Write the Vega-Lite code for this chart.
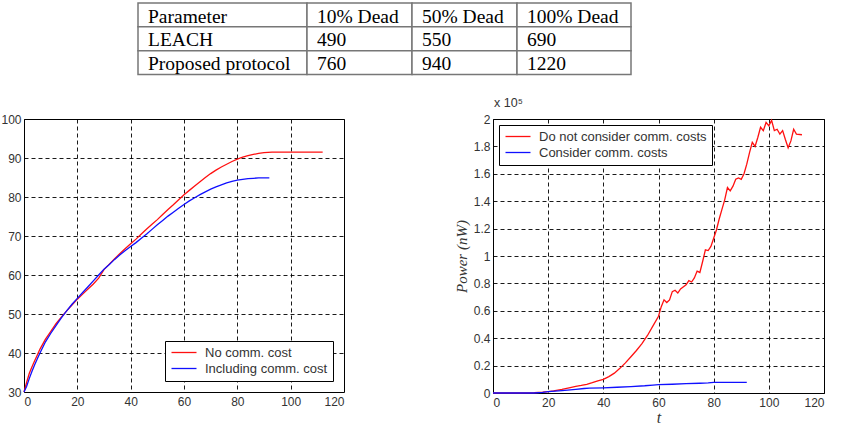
{
  "$schema": "https://vega.github.io/schema/vega-lite/v6.json",
  "padding": 0,
  "background": "white",
  "spacing": 16,
  "config": {
    "font": "Liberation Sans",
    "view": {"stroke": "black", "strokeWidth": 1},
    "axis": {
      "domain": false, "ticks": false, "grid": true,
      "gridColor": "black", "gridDash": [4, 3], "gridOpacity": 1, "gridWidth": 0.9,
      "labelFont": "Liberation Sans", "labelFontSize": 12, "labelColor": "#333",
      "title": null
    },
    "axisX": {"labelPadding": 4},
    "axisY": {"labelPadding": 3},
    "legend": {
      "fillColor": "white", "strokeColor": "black", "strokeWidth": 1,
      "padding": 5, "symbolType": "M-1,0H4", "symbolSize": 100, "symbolStrokeWidth": 1.3,
      "labelFont": "Liberation Sans", "labelFontSize": 13, "labelColor": "#333", "labelLimit": 0,
      "rowPadding": 2, "labelOffset": 22
    }
  },
  "vconcat": [
    {
      "width": 810,
      "height": 80,
      "view": {"stroke": null},
      "data": {
        "values": [
          {"c": 0, "c2": 1, "r": 0, "r2": 1, "t": "Parameter"},
          {"c": 1, "c2": 2, "r": 0, "r2": 1, "t": "10% Dead"},
          {"c": 2, "c2": 3, "r": 0, "r2": 1, "t": "50% Dead"},
          {"c": 3, "c2": 4, "r": 0, "r2": 1, "t": "100% Dead"},
          {"c": 0, "c2": 1, "r": 1, "r2": 2, "t": "LEACH"},
          {"c": 1, "c2": 2, "r": 1, "r2": 2, "t": "490"},
          {"c": 2, "c2": 3, "r": 1, "r2": 2, "t": "550"},
          {"c": 3, "c2": 4, "r": 1, "r2": 2, "t": "690"},
          {"c": 0, "c2": 1, "r": 2, "r2": 3, "t": "Proposed protocol"},
          {"c": 1, "c2": 2, "r": 2, "r2": 3, "t": "760"},
          {"c": 2, "c2": 3, "r": 2, "r2": 3, "t": "940"},
          {"c": 3, "c2": 4, "r": 2, "r2": 3, "t": "1220"}
        ]
      },
      "layer": [
        {
          "mark": {"type": "rect", "fill": "white", "stroke": "#777", "strokeWidth": 1.5},
          "encoding": {
            "x": {"field": "c", "type": "quantitative", "scale": {"domain": [0, 1, 2, 3, 4], "range": [114, 283, 388, 493, 607], "nice": false, "zero": false}, "axis": null},
            "x2": {"field": "c2"},
            "y": {"field": "r", "type": "quantitative", "scale": {"domain": [0, 3], "range": [3, 74.5], "nice": false, "zero": false}, "axis": null},
            "y2": {"field": "r2"}
          }
        },
        {
          "mark": {"type": "text", "align": "left", "baseline": "alphabetic", "dx": 10, "dy": 19.5, "font": "Liberation Serif", "fontSize": 19.5, "color": "black"},
          "encoding": {
            "x": {"field": "c", "type": "quantitative"},
            "y": {"field": "r", "type": "quantitative"},
            "text": {"field": "t"}
          }
        }
      ]
    },
    {
      "spacing": 108,
      "resolve": {"scale": {"color": "independent"}, "legend": {"color": "independent"}},
      "hconcat": [
        {
          "width": 320,
          "height": 273,
          "data": {
            "values": [
              {"x": 0, "y": 30, "s": "No comm. cost"},
              {"x": 1, "y": 32.5, "s": "No comm. cost"},
              {"x": 2, "y": 34.8, "s": "No comm. cost"},
              {"x": 3, "y": 36.5, "s": "No comm. cost"},
              {"x": 4, "y": 38, "s": "No comm. cost"},
              {"x": 5, "y": 39.5, "s": "No comm. cost"},
              {"x": 6, "y": 41, "s": "No comm. cost"},
              {"x": 8, "y": 43.5, "s": "No comm. cost"},
              {"x": 10, "y": 45.5, "s": "No comm. cost"},
              {"x": 12, "y": 47.5, "s": "No comm. cost"},
              {"x": 14, "y": 49.2, "s": "No comm. cost"},
              {"x": 16, "y": 50.8, "s": "No comm. cost"},
              {"x": 18, "y": 52.3, "s": "No comm. cost"},
              {"x": 20, "y": 53.8, "s": "No comm. cost"},
              {"x": 22, "y": 55.1, "s": "No comm. cost"},
              {"x": 24, "y": 56.4, "s": "No comm. cost"},
              {"x": 26, "y": 57.7, "s": "No comm. cost"},
              {"x": 28, "y": 59.2, "s": "No comm. cost"},
              {"x": 30, "y": 61.4, "s": "No comm. cost"},
              {"x": 32, "y": 62.8, "s": "No comm. cost"},
              {"x": 34, "y": 64.2, "s": "No comm. cost"},
              {"x": 36, "y": 65.5, "s": "No comm. cost"},
              {"x": 38, "y": 66.8, "s": "No comm. cost"},
              {"x": 40, "y": 68, "s": "No comm. cost"},
              {"x": 42, "y": 69.2, "s": "No comm. cost"},
              {"x": 44, "y": 70.5, "s": "No comm. cost"},
              {"x": 46, "y": 71.8, "s": "No comm. cost"},
              {"x": 48, "y": 73, "s": "No comm. cost"},
              {"x": 50, "y": 74.2, "s": "No comm. cost"},
              {"x": 52, "y": 75.5, "s": "No comm. cost"},
              {"x": 54, "y": 76.8, "s": "No comm. cost"},
              {"x": 56, "y": 78, "s": "No comm. cost"},
              {"x": 58, "y": 79.3, "s": "No comm. cost"},
              {"x": 60, "y": 80.6, "s": "No comm. cost"},
              {"x": 62, "y": 81.7, "s": "No comm. cost"},
              {"x": 64, "y": 82.8, "s": "No comm. cost"},
              {"x": 66, "y": 83.9, "s": "No comm. cost"},
              {"x": 68, "y": 85, "s": "No comm. cost"},
              {"x": 70, "y": 86, "s": "No comm. cost"},
              {"x": 72, "y": 86.9, "s": "No comm. cost"},
              {"x": 74, "y": 87.7, "s": "No comm. cost"},
              {"x": 76, "y": 88.4, "s": "No comm. cost"},
              {"x": 78, "y": 89.1, "s": "No comm. cost"},
              {"x": 80, "y": 89.7, "s": "No comm. cost"},
              {"x": 82, "y": 90.2, "s": "No comm. cost"},
              {"x": 84, "y": 90.6, "s": "No comm. cost"},
              {"x": 86, "y": 90.9, "s": "No comm. cost"},
              {"x": 88, "y": 91.2, "s": "No comm. cost"},
              {"x": 90, "y": 91.4, "s": "No comm. cost"},
              {"x": 93, "y": 91.5, "s": "No comm. cost"},
              {"x": 100, "y": 91.5, "s": "No comm. cost"},
              {"x": 106, "y": 91.5, "s": "No comm. cost"},
              {"x": 112, "y": 91.5, "s": "No comm. cost"},
              {"x": 0, "y": 30, "s": "Including comm. cost"},
              {"x": 1, "y": 31.5, "s": "Including comm. cost"},
              {"x": 2, "y": 33.5, "s": "Including comm. cost"},
              {"x": 3, "y": 35.3, "s": "Including comm. cost"},
              {"x": 4, "y": 37, "s": "Including comm. cost"},
              {"x": 5, "y": 38.5, "s": "Including comm. cost"},
              {"x": 6, "y": 40, "s": "Including comm. cost"},
              {"x": 8, "y": 42.8, "s": "Including comm. cost"},
              {"x": 10, "y": 45, "s": "Including comm. cost"},
              {"x": 12, "y": 47, "s": "Including comm. cost"},
              {"x": 14, "y": 49, "s": "Including comm. cost"},
              {"x": 16, "y": 50.8, "s": "Including comm. cost"},
              {"x": 18, "y": 52.5, "s": "Including comm. cost"},
              {"x": 20, "y": 54, "s": "Including comm. cost"},
              {"x": 22, "y": 55.5, "s": "Including comm. cost"},
              {"x": 24, "y": 57, "s": "Including comm. cost"},
              {"x": 26, "y": 58.5, "s": "Including comm. cost"},
              {"x": 28, "y": 60, "s": "Including comm. cost"},
              {"x": 30, "y": 61.5, "s": "Including comm. cost"},
              {"x": 32, "y": 62.7, "s": "Including comm. cost"},
              {"x": 34, "y": 64, "s": "Including comm. cost"},
              {"x": 36, "y": 65.2, "s": "Including comm. cost"},
              {"x": 38, "y": 66.3, "s": "Including comm. cost"},
              {"x": 40, "y": 67.3, "s": "Including comm. cost"},
              {"x": 42, "y": 68.3, "s": "Including comm. cost"},
              {"x": 44, "y": 69.4, "s": "Including comm. cost"},
              {"x": 46, "y": 70.5, "s": "Including comm. cost"},
              {"x": 48, "y": 71.7, "s": "Including comm. cost"},
              {"x": 50, "y": 72.9, "s": "Including comm. cost"},
              {"x": 52, "y": 74, "s": "Including comm. cost"},
              {"x": 54, "y": 75.1, "s": "Including comm. cost"},
              {"x": 56, "y": 76.1, "s": "Including comm. cost"},
              {"x": 58, "y": 77.1, "s": "Including comm. cost"},
              {"x": 60, "y": 78.1, "s": "Including comm. cost"},
              {"x": 62, "y": 79, "s": "Including comm. cost"},
              {"x": 64, "y": 79.8, "s": "Including comm. cost"},
              {"x": 66, "y": 80.6, "s": "Including comm. cost"},
              {"x": 68, "y": 81.3, "s": "Including comm. cost"},
              {"x": 70, "y": 82, "s": "Including comm. cost"},
              {"x": 72, "y": 82.6, "s": "Including comm. cost"},
              {"x": 74, "y": 83.1, "s": "Including comm. cost"},
              {"x": 76, "y": 83.6, "s": "Including comm. cost"},
              {"x": 78, "y": 84, "s": "Including comm. cost"},
              {"x": 80, "y": 84.3, "s": "Including comm. cost"},
              {"x": 82, "y": 84.5, "s": "Including comm. cost"},
              {"x": 84, "y": 84.7, "s": "Including comm. cost"},
              {"x": 86, "y": 84.8, "s": "Including comm. cost"},
              {"x": 88, "y": 84.9, "s": "Including comm. cost"},
              {"x": 92, "y": 84.9, "s": "Including comm. cost"}
            ]
          },
          "mark": {"type": "line", "strokeWidth": 1.3},
          "encoding": {
            "x": {"field": "x", "type": "quantitative", "scale": {"domain": [0, 120], "nice": false}, "axis": {"values": [0, 20, 40, 60, 80, 100, 120]}},
            "y": {"field": "y", "type": "quantitative", "scale": {"domain": [30, 100], "nice": false, "zero": false}, "axis": {"values": [30, 40, 50, 60, 70, 80, 90, 100]}},
            "color": {"field": "s", "type": "nominal", "scale": {"domain": ["No comm. cost", "Including comm. cost"], "range": ["#ff1010", "#1010ff"]}, "legend": {"orient": "bottom-right", "offset": 11, "title": null}}
          }
        },
        {
          "width": 331,
          "height": 274,
          "title": {"text": "x 10⁵", "fontSize": 12.5, "fontWeight": "normal", "font": "Liberation Sans", "color": "#333", "offset": 4, "dx": 1, "frame": "group", "anchor": "start"},
          "data": {
            "values": [
              {"t": 0, "p": 0, "s": "Do not consider comm. costs"},
              {"t": 10, "p": 0, "s": "Do not consider comm. costs"},
              {"t": 15, "p": 0.002, "s": "Do not consider comm. costs"},
              {"t": 18, "p": 0.006, "s": "Do not consider comm. costs"},
              {"t": 20, "p": 0.01, "s": "Do not consider comm. costs"},
              {"t": 22, "p": 0.016, "s": "Do not consider comm. costs"},
              {"t": 25, "p": 0.027, "s": "Do not consider comm. costs"},
              {"t": 28, "p": 0.04, "s": "Do not consider comm. costs"},
              {"t": 30, "p": 0.048, "s": "Do not consider comm. costs"},
              {"t": 32, "p": 0.055, "s": "Do not consider comm. costs"},
              {"t": 34, "p": 0.063, "s": "Do not consider comm. costs"},
              {"t": 36, "p": 0.075, "s": "Do not consider comm. costs"},
              {"t": 38, "p": 0.088, "s": "Do not consider comm. costs"},
              {"t": 40, "p": 0.1, "s": "Do not consider comm. costs"},
              {"t": 42, "p": 0.12, "s": "Do not consider comm. costs"},
              {"t": 44, "p": 0.145, "s": "Do not consider comm. costs"},
              {"t": 46, "p": 0.18, "s": "Do not consider comm. costs"},
              {"t": 48, "p": 0.22, "s": "Do not consider comm. costs"},
              {"t": 50, "p": 0.265, "s": "Do not consider comm. costs"},
              {"t": 52, "p": 0.31, "s": "Do not consider comm. costs"},
              {"t": 54, "p": 0.36, "s": "Do not consider comm. costs"},
              {"t": 56, "p": 0.42, "s": "Do not consider comm. costs"},
              {"t": 58, "p": 0.49, "s": "Do not consider comm. costs"},
              {"t": 60, "p": 0.56, "s": "Do not consider comm. costs"},
              {"t": 61, "p": 0.63, "s": "Do not consider comm. costs"},
              {"t": 62, "p": 0.68, "s": "Do not consider comm. costs"},
              {"t": 63, "p": 0.66, "s": "Do not consider comm. costs"},
              {"t": 64, "p": 0.68, "s": "Do not consider comm. costs"},
              {"t": 65, "p": 0.74, "s": "Do not consider comm. costs"},
              {"t": 66, "p": 0.75, "s": "Do not consider comm. costs"},
              {"t": 67, "p": 0.73, "s": "Do not consider comm. costs"},
              {"t": 68, "p": 0.76, "s": "Do not consider comm. costs"},
              {"t": 70, "p": 0.79, "s": "Do not consider comm. costs"},
              {"t": 71, "p": 0.82, "s": "Do not consider comm. costs"},
              {"t": 72, "p": 0.81, "s": "Do not consider comm. costs"},
              {"t": 73, "p": 0.84, "s": "Do not consider comm. costs"},
              {"t": 74, "p": 0.89, "s": "Do not consider comm. costs"},
              {"t": 75, "p": 0.88, "s": "Do not consider comm. costs"},
              {"t": 76, "p": 0.96, "s": "Do not consider comm. costs"},
              {"t": 77, "p": 1.045, "s": "Do not consider comm. costs"},
              {"t": 78, "p": 1.04, "s": "Do not consider comm. costs"},
              {"t": 79, "p": 1.07, "s": "Do not consider comm. costs"},
              {"t": 80, "p": 1.13, "s": "Do not consider comm. costs"},
              {"t": 81, "p": 1.19, "s": "Do not consider comm. costs"},
              {"t": 82, "p": 1.27, "s": "Do not consider comm. costs"},
              {"t": 83, "p": 1.34, "s": "Do not consider comm. costs"},
              {"t": 84, "p": 1.41, "s": "Do not consider comm. costs"},
              {"t": 85, "p": 1.5, "s": "Do not consider comm. costs"},
              {"t": 86, "p": 1.475, "s": "Do not consider comm. costs"},
              {"t": 87, "p": 1.51, "s": "Do not consider comm. costs"},
              {"t": 88, "p": 1.56, "s": "Do not consider comm. costs"},
              {"t": 89, "p": 1.57, "s": "Do not consider comm. costs"},
              {"t": 90, "p": 1.56, "s": "Do not consider comm. costs"},
              {"t": 91, "p": 1.6, "s": "Do not consider comm. costs"},
              {"t": 92, "p": 1.67, "s": "Do not consider comm. costs"},
              {"t": 93, "p": 1.755, "s": "Do not consider comm. costs"},
              {"t": 94, "p": 1.83, "s": "Do not consider comm. costs"},
              {"t": 95, "p": 1.8, "s": "Do not consider comm. costs"},
              {"t": 96, "p": 1.865, "s": "Do not consider comm. costs"},
              {"t": 97, "p": 1.94, "s": "Do not consider comm. costs"},
              {"t": 98, "p": 1.915, "s": "Do not consider comm. costs"},
              {"t": 99, "p": 1.975, "s": "Do not consider comm. costs"},
              {"t": 100, "p": 1.95, "s": "Do not consider comm. costs"},
              {"t": 101, "p": 1.99, "s": "Do not consider comm. costs"},
              {"t": 102, "p": 1.915, "s": "Do not consider comm. costs"},
              {"t": 103, "p": 1.925, "s": "Do not consider comm. costs"},
              {"t": 104, "p": 1.89, "s": "Do not consider comm. costs"},
              {"t": 105, "p": 1.915, "s": "Do not consider comm. costs"},
              {"t": 106, "p": 1.85, "s": "Do not consider comm. costs"},
              {"t": 107, "p": 1.79, "s": "Do not consider comm. costs"},
              {"t": 108, "p": 1.84, "s": "Do not consider comm. costs"},
              {"t": 109, "p": 1.925, "s": "Do not consider comm. costs"},
              {"t": 110, "p": 1.89, "s": "Do not consider comm. costs"},
              {"t": 112, "p": 1.885, "s": "Do not consider comm. costs"},
              {"t": 0, "p": 0, "s": "Consider comm. costs"},
              {"t": 15, "p": 0, "s": "Consider comm. costs"},
              {"t": 18, "p": 0.005, "s": "Consider comm. costs"},
              {"t": 20, "p": 0.01, "s": "Consider comm. costs"},
              {"t": 25, "p": 0.018, "s": "Consider comm. costs"},
              {"t": 30, "p": 0.027, "s": "Consider comm. costs"},
              {"t": 33, "p": 0.033, "s": "Consider comm. costs"},
              {"t": 35, "p": 0.036, "s": "Consider comm. costs"},
              {"t": 40, "p": 0.038, "s": "Consider comm. costs"},
              {"t": 45, "p": 0.042, "s": "Consider comm. costs"},
              {"t": 50, "p": 0.047, "s": "Consider comm. costs"},
              {"t": 55, "p": 0.053, "s": "Consider comm. costs"},
              {"t": 58, "p": 0.058, "s": "Consider comm. costs"},
              {"t": 60, "p": 0.061, "s": "Consider comm. costs"},
              {"t": 65, "p": 0.064, "s": "Consider comm. costs"},
              {"t": 70, "p": 0.068, "s": "Consider comm. costs"},
              {"t": 75, "p": 0.071, "s": "Consider comm. costs"},
              {"t": 78, "p": 0.074, "s": "Consider comm. costs"},
              {"t": 80, "p": 0.077, "s": "Consider comm. costs"},
              {"t": 85, "p": 0.078, "s": "Consider comm. costs"},
              {"t": 92, "p": 0.078, "s": "Consider comm. costs"}
            ]
          },
          "mark": {"type": "line", "strokeWidth": 1.3},
          "encoding": {
            "x": {"field": "t", "type": "quantitative", "scale": {"domain": [0, 120], "nice": false}, "axis": {"values": [0, 20, 40, 60, 80, 100, 120], "title": "t", "titleFont": "Liberation Serif", "titleFontStyle": "italic", "titleFontWeight": "normal", "titleFontSize": 16, "titleColor": "#333", "titlePadding": 1}},
            "y": {"field": "p", "type": "quantitative", "scale": {"domain": [0, 2], "nice": false}, "axis": {"values": [0, 0.2, 0.4, 0.6, 0.8, 1, 1.2, 1.4, 1.6, 1.8, 2], "format": "~g", "title": "Power (nW)", "titleFont": "Liberation Serif", "titleFontStyle": "italic", "titleFontWeight": "normal", "titleFontSize": 15, "titleColor": "#333", "minExtent": 20, "maxExtent": 20, "titlePadding": 4}},
            "color": {"field": "s", "type": "nominal", "scale": {"domain": ["Do not consider comm. costs", "Consider comm. costs"], "range": ["#ff1010", "#1010ff"]}, "legend": {"orient": "top-left", "offset": 6, "title": null}}
          }
        }
      ]
    }
  ]
}
